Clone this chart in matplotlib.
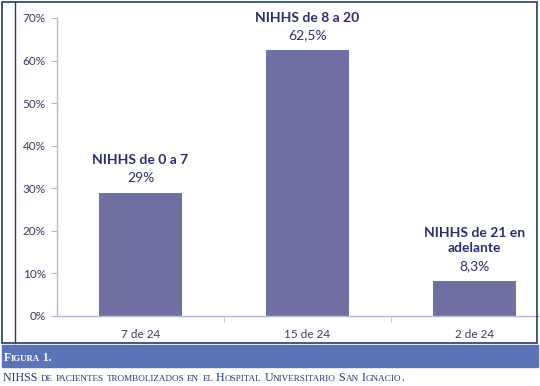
import matplotlib.pyplot as plt
from matplotlib.patches import Rectangle
from matplotlib.lines import Line2D

categories = ['7 de 24', '15 de 24', '2 de 24']
values = [29.0, 62.5, 8.3]
value_labels = ['29%', '62,5%', '8,3%']
group_labels = ['NIHHS de 0 a 7', 'NIHHS de 8 a 20', 'NIHHS de 21 en\nadelante']
y_ticks = [0, 10, 20, 30, 40, 50, 60, 70]

bar_color = '#7071a2'
text_color = '#2b2f6e'
axis_color = '#b9b9cc'
navy = '#1f3d6c'
plt.rcParams['font.family'] = ['Lato', 'DejaVu Sans']

fig = plt.figure(figsize=(5.4, 3.86), dpi=100)
W, H = 540, 386


def px(x0, y0, x1, y1):
    # pixel box (top-left origin) -> figure coords
    return [x0 / W, 1 - y1 / H, (x1 - x0) / W, (y1 - y0) / H]


ax = fig.add_axes(px(57, 18, 558, 316))
x = range(len(values))
ax.bar(x, values, width=0.5, color=bar_color)
ax.set_xlim(-0.5, 2.5)
ax.set_ylim(0, 70)
ax.set_yticks(y_ticks)
ax.set_yticklabels([f'{v}%' for v in y_ticks], fontsize=8.5, color='#3b3d5c')
ax.set_xticks(list(x))
ax.set_xticklabels(categories, fontsize=8.5, color='#3b3d5c')
ax.set_xticks([0.5, 1.5], minor=True)
ax.tick_params(axis='x', which='major', length=0, pad=9)
ax.tick_params(axis='x', which='minor', length=4, color=axis_color)
ax.tick_params(axis='y', length=4, color=axis_color, pad=4)
for s in ['top', 'right']:
    ax.spines[s].set_visible(False)
for s in ['left', 'bottom']:
    ax.spines[s].set_color(axis_color)
    ax.spines[s].set_linewidth(1.0)

for i, (v, vl, gl) in enumerate(zip(values, value_labels, group_labels)):
    ax.annotate(vl, (i, v), xytext=(0, 6), textcoords='offset points',
                ha='center', va='bottom', fontsize=10, color=text_color)
    ax.annotate(gl, (i, v), xytext=(0, 19), textcoords='offset points',
                ha='center', va='bottom', fontsize=10, fontweight='bold',
                color=text_color, linespacing=1.35)

# frame around the chart
fr = px(2, 2, 537, 343)
fig.patches.append(Rectangle(fr[:2], fr[2], fr[3], transform=fig.transFigure,
                             fill=False, edgecolor=navy, linewidth=1.2))
fig.lines.append(Line2D([15 / W, 15 / W], [1 - 343 / H, 1 - 2 / H],
                        transform=fig.transFigure, color=navy, linewidth=1.0))

# caption banner
b = px(2, 345, 538, 367)
fig.patches.append(Rectangle(b[:2], b[2], b[3], transform=fig.transFigure,
                             color='#5b74b7'))


def small_caps(x0, y0, s, fs, **kw):
    r = fig.canvas.get_renderer()
    runs = []
    for ch in s:
        big = not ch.islower()
        if runs and runs[-1][1] == big:
            runs[-1][0] += ch
        else:
            runs.append([ch, big])
    xx = x0
    for txt, big in runs:
        t = fig.text(xx, y0, txt.upper(), fontsize=fs if big else fs * 0.76,
                     va='baseline', ha='left', **kw)
        xx += t.get_window_extent(r).width / fig.bbox.width


small_caps(4 / W, 1 - 361 / H, 'Figura 1.', 8.3, color='white',
           fontweight='bold', family='Liberation Serif')
small_caps(3 / W, 1 - 381 / H,
           'NIHSS de pacientes trombolizados en el Hospital Universitario San Ignacio.',
           8.6, color=navy, family='Liberation Serif')

fig.savefig('out.png', dpi=100)
